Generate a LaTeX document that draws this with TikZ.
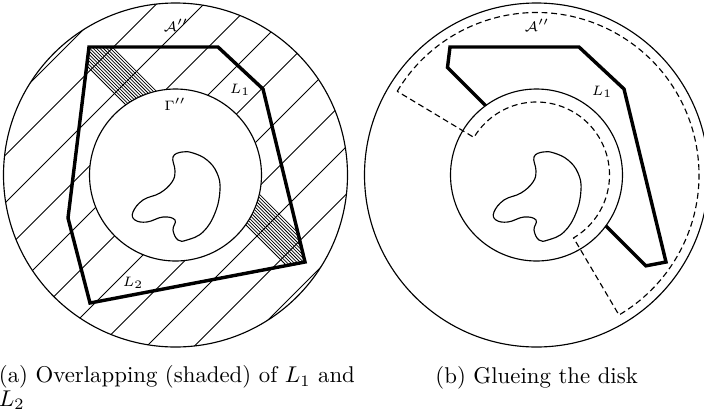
\documentclass[tikz,border=0pt]{standalone}
\usetikzlibrary{calc}
\begin{document}
\begin{tikzpicture}[x=0.4386pt,y=-0.4386pt,
  circ/.style={line width=0.5pt},
  hatchline/.style={line width=0.45pt},
  denseline/.style={line width=0.32pt},
  bound/.style={line width=1.5pt, line join=miter},
  dashbound/.style={line width=0.5pt, dash pattern=on 2.6pt off 1.6pt},
  lab/.style={font=\fontsize{6.5}{7}\selectfont, inner sep=0.8pt},
  captext/.style={font=\fontsize{10}{10.2}\selectfont, inner sep=0pt, align=left}]
\useasboundingbox (0,0) rectangle (704,415);

% ---------- left figure ----------
\coordinate (CL) at (175.5,175);
\begin{scope}
  \clip (CL) circle (172);
  \foreach \c in {18,65.5,...,700} \draw[hatchline] (\c+200,-200) -- (\c-600,600);
\end{scope}
\begin{scope}
  \clip (89,47) -- (218,47) -- (263,89) -- (305,262) -- (90,303) -- (68,218) -- cycle;
  \foreach \d in {21,24.4,...,66} \draw[denseline] (\d-50,-50) -- (\d+400,400);
\end{scope}
\fill[white] (CL) circle (86);
\draw[circ] (CL) circle (86);
\draw[circ] (CL) circle (172);
\draw[circ] plot[smooth cycle, tension=0.7] coordinates {(182,152) (193,153) (207,160) (217,173) (220,190) (215,213) (203,232) (187,240) (178,240) (173,230) (175,220) (163,217) (147,222) (135,220) (133,212) (143,200) (160,193) (172,182) (175,171) (173,157)};
\draw[bound] (89,47) -- (218,47) -- (263,89) -- (305,262) -- (90,303) -- (68,218) -- cycle;
\node[lab] (AL) at (176,25) {$\mathcal{A}''$};
\node[lab] (GL) at (175,104) {$\Gamma''$};
\node[lab] (L1L) at (240,90) {$L_1$};
\node[lab] (L2L) at (133,283) {$L_2$};

% ---------- right figure ----------
\begin{scope}[xshift=361*0.4386pt]
  \coordinate (CR) at (175.5,175);
  \draw[circ] (CR) circle (86);
  \draw[circ] (CR) circle (172);
  \draw[circ] plot[smooth cycle, tension=0.7] coordinates {(182,152) (193,153) (207,160) (217,173) (220,190) (215,213) (203,232) (187,240) (178,240) (173,230) (175,220) (163,217) (147,222) (135,220) (133,212) (143,200) (160,193) (172,182) (175,171) (173,157)};
  \draw[bound] (124.65,105.65) -- (86.48,67.48) -- (89,47) -- (218,47) -- (263,89) -- (305,262) -- (284.84,265.84) -- (244.85,225.85);
  \draw[dashbound] ($(CR)+(-149:162.5)$) arc[start angle=-149, end angle=59.5, radius=162.5]
     -- ($(CR)+(59.5:73)$) arc[start angle=59.5, end angle=-149, radius=73] -- cycle;
  \node[lab] (AR) at (176,25) {$\mathcal{A}''$};
  \node[lab] (L1R) at (241,92) {$L_1$};
\end{scope}

% ---------- captions ----------
\node[captext, anchor=base west] (capa) at (-1.5,406) {(a) Overlapping (shaded) of $L_1$ and\\$L_2$};
\node[captext, anchor=base west] (capb) at (435,383) {(b) Glueing the disk};
\end{tikzpicture}
\end{document}
